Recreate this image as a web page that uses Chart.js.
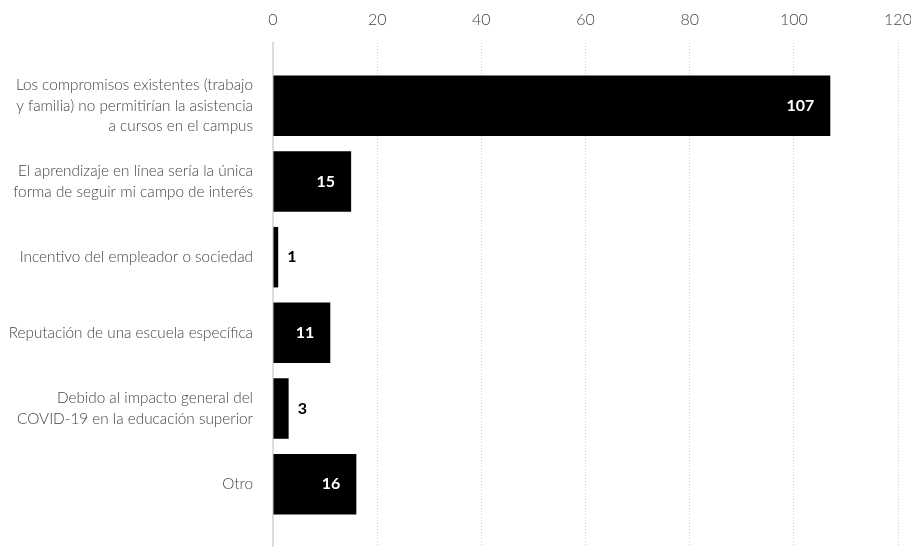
<html>
<head>
  <title></title>
  <style>
    html, body { margin: 0; padding: 0; background: #fff; }
  </style>
</head>
<body>
  <div>
  <canvas id="myChart" width="911" height="547"></canvas>
</div>

<script src="https://cdn.jsdelivr.net/npm/chart.js"></script>

<script>
  const reasons = [
    ['Los compromisos existentes (trabajo', 'y familia) no permitirían la asistencia', 'a cursos en el campus'],
    ['El aprendizaje en línea sería la única', 'forma de seguir mi campo de interés'],
    ['Incentivo del empleador o sociedad'],
    ['Reputación de una escuela específica'],
    ['Debido al impacto general del', 'COVID-19 en la educación superior'],
    ['Otro']
  ]
  const counts = [107, 15, 1, 11, 3, 16]
  const xTicks = [0, 20, 40, 60, 80, 100, 120]

  const FONT = 'Lato, "Source Sans Pro", sans-serif'

  // numbers on the bars: white inside long bars, black just past short ones
  const barValues = {
    id: 'barValues',
    afterDatasetsDraw(chart) {
      const c = chart.ctx
      const meta = chart.getDatasetMeta(0)
      c.save()
      c.font = 'bold 16px ' + FONT
      c.textBaseline = 'middle'
      meta.data.forEach((bar, i) => {
        const v = counts[i]
        const inside = v > 5
        c.fillStyle = inside ? '#fff' : '#000'
        c.textAlign = inside ? 'right' : 'left'
        c.fillText(String(v), inside ? bar.x - 16 : bar.x + 9, bar.y)
      })
      c.restore()
    }
  }

  const ctx = document.getElementById('myChart')
  new Chart(ctx, {
    type: 'bar',
    data: {
      datasets: [{
        data: counts.map((v, i) => ({ x: v, y: i })),
        backgroundColor: '#000',
        borderWidth: 0,
        categoryPercentage: 1,
        barPercentage: 0.8
      }]
    },
    plugins: [barValues],
    options: {
      indexAxis: 'y',
      responsive: false,
      animation: false,
      layout: { padding: { left: 0, right: 13, top: 0, bottom: 0 } },
      plugins: { legend: { display: false }, tooltip: { enabled: false } },
      scales: {
        x: {
          type: 'linear',
          position: 'top',
          min: 0,
          max: 120,
          afterBuildTicks: s => { s.ticks = xTicks.map(v => ({ value: v })) },
          afterFit: s => { s.height = 43; s.paddingLeft = 0; s.paddingRight = 0 },
          grid: {
            drawTicks: false,
            color: c => c.tick && c.tick.value === 0 ? 'rgba(0,0,0,0)' : '#cfcfcf',
            lineWidth: 1
          },
          border: { display: false, dash: [1, 2] },
          ticks: {
            padding: 14,
            color: '#444',
            font: { family: FONT, size: 16, weight: 300 }
          }
        },
        y: {
          type: 'linear',
          reverse: true,
          offset: false,
          min: -0.83,
          max: 5.83,
          afterBuildTicks: s => { s.ticks = reasons.map((r, i) => ({ value: i })) },
          afterFit: s => { s.width = 273; s.paddingTop = 0; s.paddingBottom = 0 },
          grid: { display: false, drawTicks: false, offset: false },
          border: { display: true, color: '#dcdcdc', width: 2 },
          ticks: {
            padding: 20,
            color: '#444',
            font: { family: FONT, size: 15.3, weight: 300, lineHeight: 1.34 },
            callback: v => reasons[v] || ''
          }
        }
      }
    }
  })
</script>

</body>
</html>
